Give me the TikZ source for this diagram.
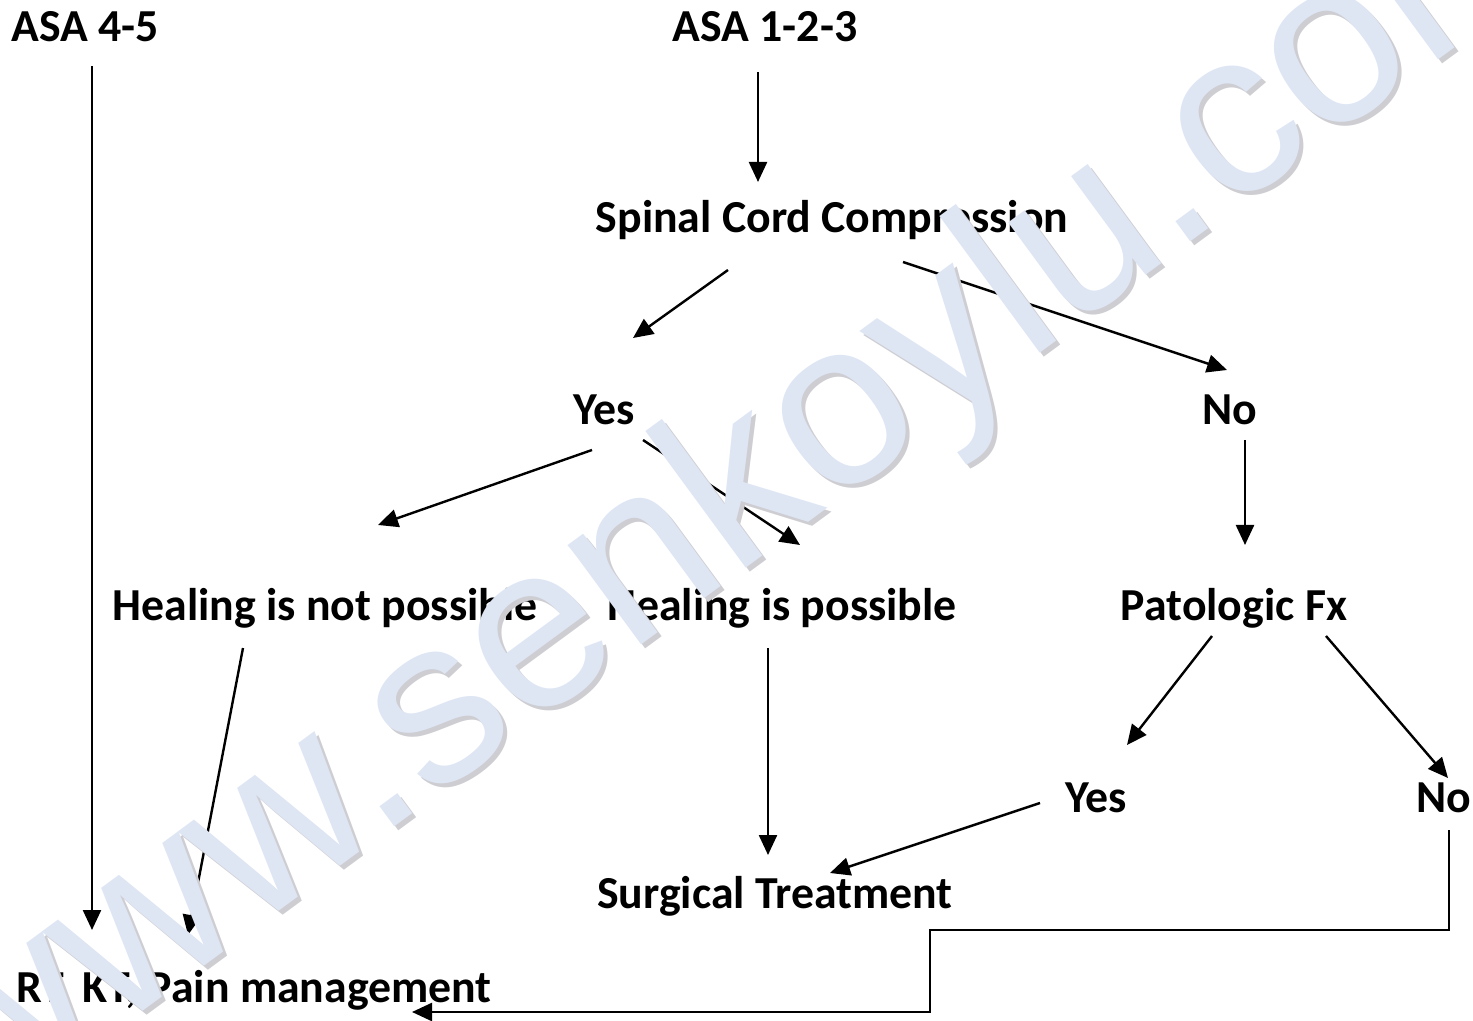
\documentclass[tikz,border=0pt]{standalone}
\usepackage{fontspec}
\setmainfont{Carlito}
\newfontfamily\wmfont{Liberation Sans}
\usetikzlibrary{arrows.meta,calc}
\definecolor{wm}{RGB}{222,230,244}
\definecolor{wmshadow}{RGB}{205,205,210}
\begin{document}
\begin{tikzpicture}[x=0.5pt,y=-0.5pt,
  lbl/.style={font=\bfseries\fontsize{22.9}{27}\selectfont, anchor=base, inner sep=0pt},
  arr/.style={line width=1.2pt, -{Triangle[length=10pt,width=9pt]}},
  wmark/.style={rotate=36.3, font=\wmfont\fontsize{117}{117}\selectfont, inner sep=0pt, anchor=base}]
\useasboundingbox (0,0) rectangle (1473,1021);
\node[lbl] (asa45) at (85,42) {ASA 4-5};
\node[lbl] (asa123) at (765,42) {ASA 1-2-3};
\node[lbl] (spinal) at (832,233) {Spinal Cord Compression};
\node[lbl] (yes1) at (604,425) {Yes};
\node[lbl] (no1) at (1230,425) {No};
\node[lbl] (healnot) at (325,620) {Healing is not possible};
\node[lbl] (healpos) at (782,620) {Healing is possible};
\node[lbl] (pato) at (1234,620) {Patologic Fx};
\node[lbl] (yes2) at (1096,812) {Yes};
\node[lbl] (no2) at (1444,812) {No};
\node[lbl] (surg) at (775,908) {Surgical Treatment};
\node[lbl] (rt) at (254,1002) {RT, KT, Pain management};

\draw[arr] ($(asa45.base)+(7,24)$) -- ($(rt.base)+(-162,-72)$);
\draw[arr] ($(asa123.base)+(-7,30)$) -- ($(spinal.base)+(-74,-51)$);
\draw[arr] ($(spinal.base)+(-104,37)$) -- ($(yes1.base)+(29,-87)$);
\draw[arr] ($(spinal.base)+(71,29)$) -- ($(no1.base)+(-3,-55)$);
\draw[arr] ($(yes1.base)+(-12,25)$) -- ($(healnot.base)+(53,-95)$);
\draw[arr] ($(yes1.base)+(39,15)$) -- ($(healpos.base)+(18,-75)$);
\draw[arr] ($(no1.base)+(15,15)$) -- ($(pato.base)+(11,-75)$);
\draw[arr] ($(healnot.base)+(-82,28)$) -- ($(rt.base)+(-66,-67)$);
\draw[arr] ($(healpos.base)+(-14,28)$) -- ($(surg.base)+(-7,-53)$);
\draw[arr] ($(pato.base)+(-22,16)$) -- ($(yes2.base)+(31,-67)$);
\draw[arr] ($(pato.base)+(92,16)$) -- ($(no2.base)+(4,-34)$);
\draw[arr] ($(yes2.base)+(-56,-9)$) -- ($(surg.base)+(55,-35)$);
\coordinate (r1) at (1449,930);
\coordinate (r2) at (930,930);
\coordinate (r3) at (930,1012);
\draw[arr] ($(no2.base)+(5,18)$) -- (r1) -- (r2) -- (r3) -- ($(rt.base)+(158,10)$);

\node[wmark, text=wmshadow] (wms) at (785,547) {www.senkoylu.com};
\node[wmark, text=wm] (wmk) at (781,543) {www.senkoylu.com};
\end{tikzpicture}
\end{document}
